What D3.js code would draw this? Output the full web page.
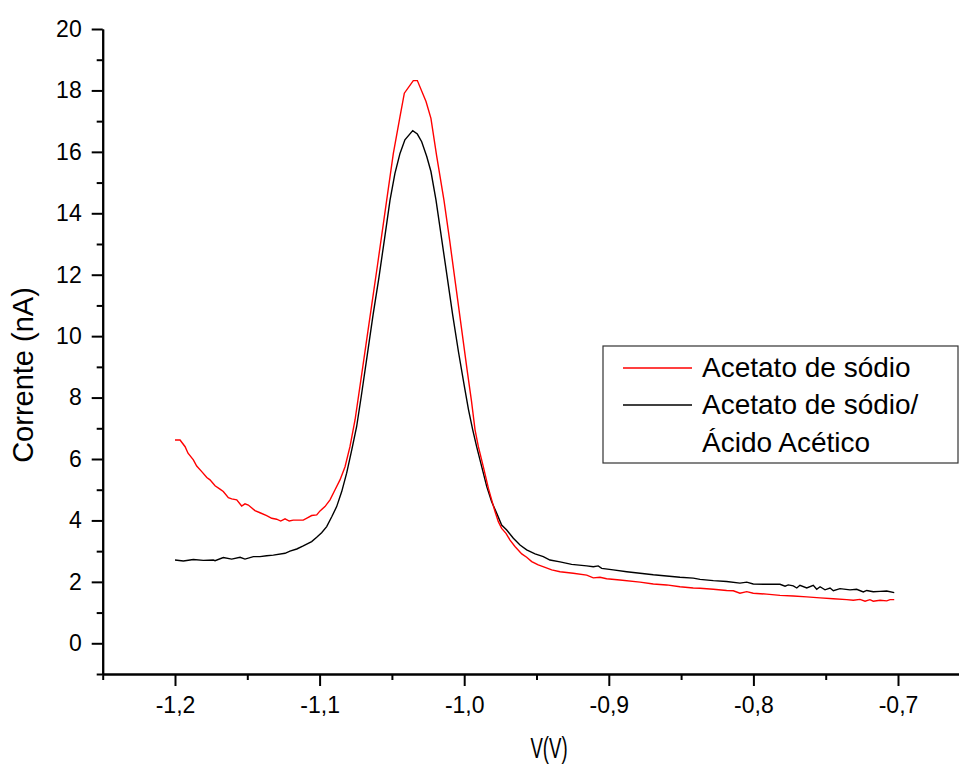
<!DOCTYPE html>
<html>
<head>
<meta charset="utf-8">
<script src="https://cdn.jsdelivr.net/npm/d3@7/dist/d3.min.js"></script>
<style>
  html, body { margin: 0; padding: 0; background: #fff; }
  svg { display: block; font-family: "Liberation Sans", Arial, sans-serif; }
</style>
</head>
<body>
<svg id="chart" width="959" height="765"></svg>
<script>
// ---------- data ----------
const redV = [-1.2000,-1.1965,-1.1930,-1.1910,-1.1873,-1.1850,-1.1815,-1.1780,-1.1758,-1.1723,-1.1689,-1.1666,-1.1631,-1.1608,-1.1573,-1.1539,-1.1516,-1.1493,-1.1447,-1.1412,-1.1366,-1.1331,-1.1297,-1.1269,-1.1239,-1.1210,-1.1182,-1.1113,-1.1078,-1.1055,-1.1020,-1.0997,-1.0963,-1.0928,-1.0894,-1.0859,-1.0824,-1.0790,-1.0755,-1.0720,-1.0680,-1.0640,-1.0600,-1.0570,-1.0536,-1.0490,-1.0444,-1.0414,-1.0352,-1.0324,-1.0264,-1.0230,-1.0190,-1.0140,-1.0100,-1.0060,-1.0020,-0.9980,-0.9950,-0.9925,-0.9902,-0.9868,-0.9833,-0.9810,-0.9787,-0.9764,-0.9741,-0.9711,-0.9683,-0.9649,-0.9602,-0.9568,-0.9533,-0.9488,-0.9441,-0.9395,-0.9337,-0.9246,-0.9153,-0.9107,-0.9061,-0.9015,-0.8923,-0.8784,-0.8692,-0.8600,-0.8508,-0.8416,-0.8369,-0.8277,-0.8185,-0.8139,-0.8093,-0.8046,-0.8001,-0.7908,-0.7816,-0.7724,-0.7631,-0.7539,-0.7447,-0.7355,-0.7309,-0.7263,-0.7228,-0.7194,-0.7171,-0.7124,-0.7078,-0.7055,-0.7026];
const redI = [6.62,6.62,6.40,6.19,5.97,5.77,5.59,5.40,5.32,5.13,5.02,4.94,4.74,4.70,4.67,4.47,4.54,4.50,4.32,4.25,4.16,4.07,4.04,3.98,4.05,3.98,4.01,4.01,4.10,4.16,4.18,4.31,4.45,4.67,4.99,5.32,5.75,6.40,7.27,8.4,9.7,11.0,12.3,13.3,14.43,15.95,17.15,17.91,18.32,18.32,17.64,17.09,15.85,14.43,13.1,11.7,10.3,8.9,7.9,6.95,6.40,5.75,5.05,4.67,4.29,3.96,3.74,3.58,3.36,3.15,2.91,2.80,2.66,2.55,2.47,2.39,2.33,2.28,2.22,2.13,2.15,2.10,2.06,1.99,1.93,1.90,1.84,1.80,1.79,1.76,1.72,1.71,1.63,1.68,1.63,1.60,1.56,1.54,1.51,1.48,1.45,1.42,1.40,1.43,1.37,1.42,1.37,1.40,1.38,1.42,1.42];

const blackV = [-1.2000,-1.1942,-1.1873,-1.1804,-1.1735,-1.1723,-1.1666,-1.1608,-1.1550,-1.1516,-1.1458,-1.1412,-1.1366,-1.1320,-1.1239,-1.1205,-1.1158,-1.1113,-1.1055,-1.1020,-1.0986,-1.0951,-1.0916,-1.0882,-1.0847,-1.0813,-1.0778,-1.0744,-1.0710,-1.0670,-1.0630,-1.0590,-1.0550,-1.0513,-1.0479,-1.0444,-1.0410,-1.0356,-1.0324,-1.0294,-1.0259,-1.0230,-1.0195,-1.0160,-1.0120,-1.0080,-1.0040,-1.0000,-0.9970,-0.9941,-0.9914,-0.9879,-0.9844,-0.9810,-0.9775,-0.9741,-0.9706,-0.9660,-0.9614,-0.9568,-0.9510,-0.9453,-0.9407,-0.9337,-0.9257,-0.9153,-0.9107,-0.9073,-0.9049,-0.8969,-0.8876,-0.8784,-0.8692,-0.8600,-0.8508,-0.8416,-0.8369,-0.8277,-0.8185,-0.8093,-0.8046,-0.8001,-0.7908,-0.7816,-0.7781,-0.7759,-0.7724,-0.7700,-0.7678,-0.7631,-0.7586,-0.7562,-0.7539,-0.7505,-0.7470,-0.7447,-0.7401,-0.7332,-0.7286,-0.7240,-0.7216,-0.7171,-0.7124,-0.7078,-0.7026];
const blackI = [2.71,2.68,2.73,2.70,2.71,2.69,2.79,2.74,2.80,2.74,2.82,2.82,2.85,2.87,2.93,3.00,3.07,3.17,3.31,3.45,3.60,3.80,4.12,4.45,4.94,5.54,6.29,7.05,8.1,9.4,10.7,11.9,13.2,14.43,15.30,15.95,16.39,16.69,16.58,16.33,15.85,15.36,14.43,13.3,12.0,10.7,9.5,8.4,7.6,6.95,6.40,5.75,5.10,4.61,4.23,3.85,3.69,3.42,3.20,3.04,2.91,2.82,2.71,2.65,2.57,2.52,2.49,2.52,2.44,2.39,2.33,2.28,2.23,2.19,2.15,2.12,2.08,2.04,2.01,1.96,1.99,1.93,1.92,1.92,1.86,1.90,1.87,1.80,1.89,1.80,1.89,1.76,1.84,1.74,1.80,1.71,1.78,1.74,1.76,1.67,1.72,1.68,1.69,1.70,1.65];

const xMajorTicks = [-1.2, -1.1, -1.0, -0.9, -0.8, -0.7];
const xMinorTicks = [-1.25, -1.15, -1.05, -0.95, -0.85, -0.75, -0.65];
const yMajorTicks = [0, 2, 4, 6, 8, 10, 12, 14, 16, 18, 20];
const yMinorTicks = [-1, 1, 3, 5, 7, 9, 11, 13, 15, 17, 19];

const seriesNames = ["Acetato de sódio", "Acetato de sódio/", "Ácido Acético"];
const xTitle = "V(V)";
const yTitle = "Corrente (nA)";

// ---------- drawing ----------
const svg = d3.select("#chart");
const plotLeft = 102.7, plotRight = 970.3, plotTop = 29, plotBottom = 674;

const x = d3.scaleLinear().domain([-1.25, -0.65]).range([plotLeft, plotRight]);
const y = d3.scaleLinear().domain([-1, 20]).range([plotBottom, plotTop]);

const fmt = v => d3.format(".1f")(v).replace(".", ",").replace("\u2212", "-");

// plot lines
const line = d3.line().x(d => x(d[0])).y(d => y(d[1]));
const redData = redV.map((v, i) => [v, redI[i]]);
const blackData = blackV.map((v, i) => [v, blackI[i]]);

svg.append("path").datum(blackData).attr("d", line)
  .attr("fill", "none").attr("stroke", "#000").attr("stroke-width", 1.4);
svg.append("path").datum(redData).attr("d", line)
  .attr("fill", "none").attr("stroke", "#ff0000").attr("stroke-width", 1.4);

// axes
function styleAxis(g) {
  g.select(".domain").attr("stroke", "#000").attr("stroke-width", 2);
  g.selectAll(".tick line").attr("stroke", "#000").attr("stroke-width", 2);
  g.selectAll("text").attr("fill", "#000").style("font-size", "23px")
    .style("font-family", '"Liberation Sans", Arial, sans-serif');
}

const xMinor = svg.append("g").attr("transform", `translate(0,${plotBottom})`)
  .call(d3.axisBottom(x).tickValues(xMinorTicks).tickSize(6).tickSizeOuter(0).tickFormat(""));
styleAxis(xMinor);
const xMajor = svg.append("g").attr("transform", `translate(0,${plotBottom})`)
  .call(d3.axisBottom(x).tickValues(xMajorTicks).tickSize(12).tickSizeOuter(0).tickPadding(11).tickFormat(fmt));
styleAxis(xMajor);

const yMinor = svg.append("g").attr("transform", `translate(${plotLeft},0)`)
  .call(d3.axisLeft(y).tickValues(yMinorTicks).tickSize(6).tickSizeOuter(0).tickFormat(""));
styleAxis(yMinor);
const yMajor = svg.append("g").attr("transform", `translate(${plotLeft},0)`)
  .call(d3.axisLeft(y).tickValues(yMajorTicks).tickSize(11).tickSizeOuter(0).tickPadding(10).tickFormat(d => d3.format("d")(d)));
styleAxis(yMajor);

// axis titles
svg.append("text")
  .attr("transform", `translate(549,758) scale(0.62,1)`)
  .attr("text-anchor", "middle")
  .style("font-size", "30px").attr("fill", "#000")
  .text(xTitle);

svg.append("text")
  .attr("transform", "translate(33,375) rotate(-90)")
  .attr("text-anchor", "middle")
  .style("font-size", "29px").attr("fill", "#000")
  .text(yTitle);

// legend
const lg = svg.append("g");
lg.append("rect").attr("x", 603).attr("y", 346).attr("width", 355).attr("height", 117)
  .attr("fill", "#fff").attr("stroke", "#333").attr("stroke-width", 1.2);
lg.append("line").attr("x1", 623).attr("x2", 692).attr("y1", 368).attr("y2", 368)
  .attr("stroke", "#ff0000").attr("stroke-width", 1.4);
lg.append("line").attr("x1", 623).attr("x2", 692).attr("y1", 405).attr("y2", 405)
  .attr("stroke", "#000").attr("stroke-width", 1.4);
const legendY = [377, 414, 452];
seriesNames.forEach((t, i) => {
  lg.append("text").attr("x", 702).attr("y", legendY[i])
    .style("font-size", "28px").attr("fill", "#000").text(t);
});
</script>
</body>
</html>
